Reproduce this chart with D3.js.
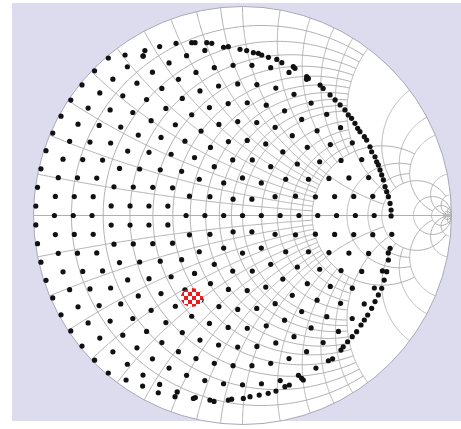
<!DOCTYPE html>
<html><head><meta charset="utf-8">
<script src="https://cdn.jsdelivr.net/npm/d3@7"></script>
<style>html,body{margin:0;padding:0;background:#fff;overflow:hidden}</style>
</head><body>
<svg id="chart" width="461" height="429"></svg>
<script>
// Radii |Γ| of the rings of sample points (ring 0 is the centre point)
const ringRadius = [0, 0.09, 0.18, 0.27, 0.36, 0.45, 0.54, 0.63, 0.72, 0.81, 0.90, 0.99];
// Angles (degrees) of the sample points on each ring that fall inside the region
const ringAngles = [
  [0],
  [0, 60, 120, 180, 240, 300],
  [0, 30, 60, 90, 120, 150, 180, 210, 240, 270, 300, 330],
  [0, 20, 40, 60, 80, 100, 120, 140, 160, 180, 200, 220, 240, 260, 280, 300, 320, 340],
  [0, 14.4, 28.8, 43.2, 57.6, 72, 86.4, 100.8, 115.2, 129.6, 144, 158.4, 172.8, 187.2, 201.6, 216, 230.4, 244.8, 259.2, 273.6, 288, 302.4, 316.8, 331.2, 345.6],
  [0, 11.61, 23.23, 34.84, 46.45, 58.06, 69.68, 81.29, 92.9, 104.52, 116.13, 127.74, 139.35, 150.97, 162.58, 174.19, 185.81, 197.42, 209.03, 220.65, 232.26, 243.87, 255.48, 267.1, 278.71, 290.32, 301.94, 313.55, 325.16, 336.77, 348.39],
  [0, 9.73, 19.46, 29.19, 38.92, 48.65, 58.38, 68.11, 77.84, 87.57, 97.3, 107.03, 116.76, 126.49, 136.22, 145.95, 155.68, 165.41, 175.14, 184.86, 194.59, 204.32, 214.05, 223.78, 233.51, 243.24, 252.97, 262.7, 272.43, 282.16, 291.89, 301.62, 311.35, 321.08, 330.81, 340.54, 350.27],
  [0, 8.37, 16.74, 25.12, 33.49, 41.86, 50.23, 58.6, 66.98, 75.35, 83.72, 92.09, 100.47, 108.84, 117.21, 125.58, 133.95, 142.33, 150.7, 159.07, 167.44, 175.81, 184.19, 192.56, 200.93, 209.3, 217.67, 226.05, 234.42, 242.79, 251.16, 259.53, 267.91, 276.28, 284.65, 293.02, 301.4, 309.77, 318.14, 326.51, 334.88, 343.26, 351.63],
  [57.6, 64.8, 72, 79.2, 86.4, 93.6, 100.8, 108, 115.2, 122.4, 129.6, 136.8, 144, 151.2, 158.4, 165.6, 172.8, 180, 187.2, 194.4, 201.6, 208.8, 216, 223.2, 230.4, 237.6, 244.8, 252, 259.2, 266.4, 273.6, 280.8, 288, 295.2, 302.4, 309.6, 316.8, 324, 331.2, 338.4, 345.6, 352.8],
  [96.43, 102.86, 109.29, 115.71, 122.14, 128.57, 135, 141.43, 147.86, 154.29, 160.71, 167.14, 173.57, 180, 186.43, 192.86, 199.29, 205.71, 212.14, 218.57, 225, 231.43, 237.86, 244.29, 250.71, 257.14, 263.57, 270, 276.43, 282.86, 289.29, 295.71, 302.14],
  [116.13, 121.94, 127.74, 133.55, 139.35, 145.16, 150.97, 156.77, 162.58, 168.39, 174.19, 180, 185.81, 191.61, 197.42, 203.23, 209.03, 214.84, 220.65, 226.45, 232.26, 238.06, 243.87, 249.68, 255.48, 261.29],
  [130.43, 135.65, 140.87, 146.09, 151.3, 156.52, 161.74, 166.96, 172.17, 177.39, 182.61, 187.83, 193.04, 198.26, 203.48, 208.7, 213.91, 219.13, 224.35, 229.57]
];
// Sample points that sit on the edge of the region (Γ real, Γ imaginary)
const edgePoints = [
  [-0.562, 0.768], [-0.467, 0.789], [-0.475, 0.763],
  [-0.318, 0.824], [-0.243, 0.827], [-0.227, 0.827], [-0.171, 0.827], [-0.147, 0.824],
  [-0.068, 0.808], [-0.012, 0.795], [0.020, 0.789], [0.052, 0.779], [0.076, 0.776],
  [0.092, 0.768], [0.124, 0.757], [0.164, 0.747], [0.188, 0.731], [0.243, 0.712],
  [0.251, 0.704], [0.307, 0.664], [0.315, 0.656],
  [0.371, 0.624], [0.419, 0.577], [0.443, 0.553], [0.467, 0.529], [0.490, 0.505],
  [0.506, 0.481], [0.522, 0.465], [0.538, 0.441], [0.551, 0.417], [0.562, 0.401],
  [0.583, 0.377], [0.594, 0.361], [0.610, 0.329], [0.618, 0.305], [0.634, 0.281],
  [0.642, 0.257], [0.650, 0.242], [0.658, 0.218], [0.666, 0.194], [0.674, 0.170],
  [0.682, 0.138], [0.690, 0.114], [0.698, 0.090], [0.706, 0.058], [0.711, 0.026],
  [0.711, -0.002],
  [0.706, -0.157], [0.698, -0.213], [0.690, -0.269], [0.678, -0.309], [0.666, -0.348],
  [0.650, -0.380], [0.634, -0.412], [0.618, -0.444], [0.599, -0.476], [0.583, -0.500],
  [0.567, -0.524], [0.546, -0.556], [0.525, -0.580], [0.503, -0.604], [0.482, -0.628],
  [0.471, -0.644], [0.411, -0.695],
  [0.291, -0.787], [0.283, -0.779], [0.224, -0.811], [0.203, -0.819], [0.160, -0.840],
  [0.123, -0.851], [0.080, -0.859], [0.036, -0.867], [0.004, -0.875], [-0.052, -0.879],
  [-0.068, -0.883], [-0.156, -0.883], [-0.235, -0.875], [-0.323, -0.867],
  [-0.403, -0.848], [-0.478, -0.816], [-0.557, -0.787]
];
// Selected point (Γ real, Γ imaginary)
const markerPoint = [-0.242, -0.392];

// Constant-resistance circles: [r, largest |x| drawn]
const rCircles = [
  [0.1, 2], [0.2, 2], [0.3, 2], [0.4, 2], [0.5, 2], [0.6, 2], [0.7, 2], [0.8, 2], [0.9, 2], [1.0, 2],
  [1.2, 2], [1.4, 2], [1.6, 2], [1.8, 2], [2.0, 5],
  [3, 5], [4, 5], [5, 20], [10, Infinity], [20, Infinity], [50, Infinity]
];
// Constant-reactance arcs: [x, largest r drawn] (drawn for +x and -x)
const xArcs = [
  [0.1, 2], [0.2, 2], [0.3, 2], [0.4, 2], [0.5, 2], [0.6, 2], [0.7, 2], [0.8, 2], [0.9, 2], [1.0, 5],
  [1.2, 2], [1.4, 2], [1.6, 2], [1.8, 2], [2.0, 5],
  [3, 5], [4, 5], [5, 20], [10, Infinity], [20, Infinity], [50, Infinity]
];

const svg = d3.select("#chart");
const W = 461, H = 429;
const cx = 242.5, cy = 215.5, R = 209;
const sx = d3.scaleLinear().domain([-1, 1]).range([cx - R, cx + R]);
const sy = d3.scaleLinear().domain([-1, 1]).range([cy + R, cy - R]);

// page background
svg.append("rect").attr("width", W).attr("height", H).attr("fill", "#ffffff");
svg.append("rect").attr("x", 12).attr("y", 3).attr("width", W - 12).attr("height", 418).attr("fill", "#dcdcee");

// chart disc
svg.append("circle").attr("cx", sx(0)).attr("cy", sy(0)).attr("r", sx(1) - sx(0))
  .attr("fill", "#ffffff");

const clip = svg.append("clipPath").attr("id", "disc");
clip.append("circle").attr("cx", sx(0)).attr("cy", sy(0)).attr("r", sx(1) - sx(0));

// normalised impedance z = a + jb  ->  reflection coefficient Γ
function gamma(a, b) {
  const d = (a + 1) * (a + 1) + b * b;
  return [(a * a - 1 + b * b) / d, (2 * b) / d];
}
const line = d3.line().x(d => sx(d[0])).y(d => sy(d[1]));
const grid = svg.append("g").attr("clip-path", "url(#disc)")
  .attr("fill", "none").attr("stroke", "#b0b0b0").attr("stroke-width", 1);

const steps = 240;
rCircles.forEach(([r, xm]) => {
  const u = Math.atan(xm);
  const pts = d3.range(steps + 1).map(i => gamma(r, Math.tan(-u + 2 * u * i / steps)));
  grid.append("path").attr("d", line(pts));
});
xArcs.forEach(([x, rm]) => {
  const u = Math.atan(rm);
  [x, -x].forEach(xv => {
    const pts = d3.range(steps + 1).map(i => gamma(Math.tan(u * i / steps), xv));
    grid.append("path").attr("d", line(pts));
  });
});
// real axis
grid.append("line").attr("x1", sx(-1)).attr("x2", sx(1)).attr("y1", sy(0)).attr("y2", sy(0));
// outer circle
svg.append("circle").attr("cx", sx(0)).attr("cy", sy(0)).attr("r", sx(1) - sx(0))
  .attr("fill", "none").attr("stroke", "#a8a8b8").attr("stroke-width", 1);

// sample points
const pts = [];
ringAngles.forEach((angles, k) => {
  angles.forEach(a => {
    const t = a * Math.PI / 180;
    pts.push([ringRadius[k] * Math.cos(t), ringRadius[k] * Math.sin(t)]);
  });
});
edgePoints.forEach(p => pts.push(p));
svg.append("g").selectAll("circle").data(pts).join("circle")
  .attr("cx", d => sx(d[0])).attr("cy", d => sy(d[1])).attr("r", 2.6).attr("fill", "#111");

// checkered marker
const defs = svg.append("defs");
const pat = defs.append("pattern").attr("id", "checks").attr("patternUnits", "userSpaceOnUse")
  .attr("width", 8).attr("height", 8);
pat.append("rect").attr("width", 8).attr("height", 8).attr("fill", "#ffffff");
pat.append("rect").attr("width", 4).attr("height", 4).attr("fill", "#ee1a1a");
pat.append("rect").attr("x", 4).attr("y", 4).attr("width", 4).attr("height", 4).attr("fill", "#ee1a1a");
svg.append("ellipse").attr("cx", sx(markerPoint[0])).attr("cy", sy(markerPoint[1]))
  .attr("rx", 11).attr("ry", 9.5).attr("fill", "url(#checks)");
</script>
</body></html>
